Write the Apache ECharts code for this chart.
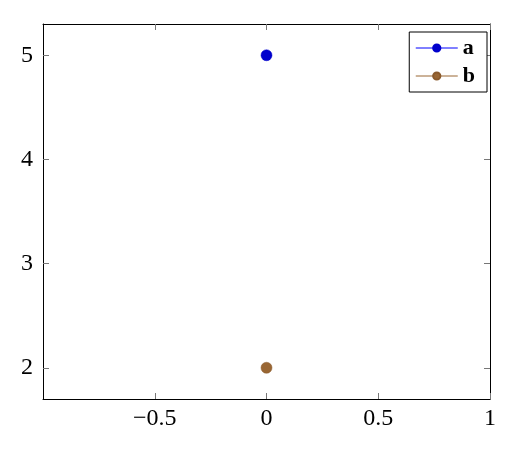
<!DOCTYPE html>
<html>
<head>
<meta charset="utf-8">
<script src="https://cdn.jsdelivr.net/npm/echarts@6/dist/echarts.min.js"></script>
<style>html,body{margin:0;padding:0;background:#fff;}#c{width:529px;height:460px;}</style>
</head>
<body>
<div id="c"></div>
<script>
const seriesNames = ['a', 'b'];
const seriesA = [[0, 5]];
const seriesB = [[0, 2]];
const xTicks = [-0.5, 0, 0.5, 1];
const yTicks = [2, 3, 4, 5];
const xRange = [-1, 1];
const yRange = [1.7, 5.3];

const font = 'Liberation Serif';
const fmt = v => (v < 0 ? '\u2212' + Math.abs(v) : String(v));
const tickStyle = {show: true, inside: true, length: 6, lineStyle: {color: '#777', width: 1}};
const chart = echarts.init(document.getElementById('c'));
chart.setOption({
  animation: false,
  backgroundColor: '#fff',
  grid: {left: 43, right: 39, top: 24, bottom: 61},
  legend: {
    right: 42, top: 32,
    orient: 'vertical',
    backgroundColor: '#fff',
    borderColor: '#000', borderWidth: 1,
    padding: [5, 12, 5, 6],
    itemWidth: 42, itemHeight: 9, itemGap: 6,
    lineStyle: {width: 1},
    textStyle: {fontFamily: font, fontWeight: 'bold', fontSize: 22, color: '#000', lineHeight: 21},
    data: seriesNames
  },
  xAxis: [{
    type: 'value', min: xRange[0], max: xRange[1],
    axisLine: {show: true, onZero: false, lineStyle: {color: '#000', width: 1}},
    axisTick: Object.assign({customValues: xTicks}, tickStyle),
    axisLabel: {customValues: xTicks, formatter: fmt, fontFamily: font, fontSize: 24, color: '#000', margin: 8},
    splitLine: {show: false}
  }, {
    type: 'value', position: 'top', min: xRange[0], max: xRange[1],
    axisLine: {show: true, onZero: false, lineStyle: {color: '#000', width: 1}},
    axisTick: Object.assign({customValues: xTicks}, tickStyle),
    axisLabel: {show: false},
    splitLine: {show: false}
  }],
  yAxis: [{
    type: 'value', min: yRange[0], max: yRange[1],
    axisLine: {show: true, onZero: false, lineStyle: {color: '#000', width: 1}},
    axisTick: Object.assign({customValues: yTicks}, tickStyle),
    axisLabel: {customValues: yTicks, formatter: fmt, fontFamily: font, fontSize: 24, color: '#000', margin: 10},
    splitLine: {show: false}
  }, {
    type: 'value', position: 'right', min: yRange[0], max: yRange[1],
    axisLine: {show: true, onZero: false, lineStyle: {color: '#000', width: 1}},
    axisTick: Object.assign({customValues: yTicks}, tickStyle),
    axisLabel: {show: false},
    splitLine: {show: false}
  }],
  series: [{
    name: seriesNames[0], type: 'line', data: seriesA,
    symbol: 'circle', symbolSize: 11,
    itemStyle: {color: '#0000cc', borderColor: '#0000cc', borderWidth: 0.5},
    lineStyle: {color: '#0000ff', width: 1}
  }, {
    name: seriesNames[1], type: 'line', data: seriesB,
    symbol: 'circle', symbolSize: 11,
    itemStyle: {color: '#996633', borderColor: '#8a5a2c', borderWidth: 0.5},
    lineStyle: {color: '#996633', width: 1}
  }]
});
</script>
</body>
</html>
